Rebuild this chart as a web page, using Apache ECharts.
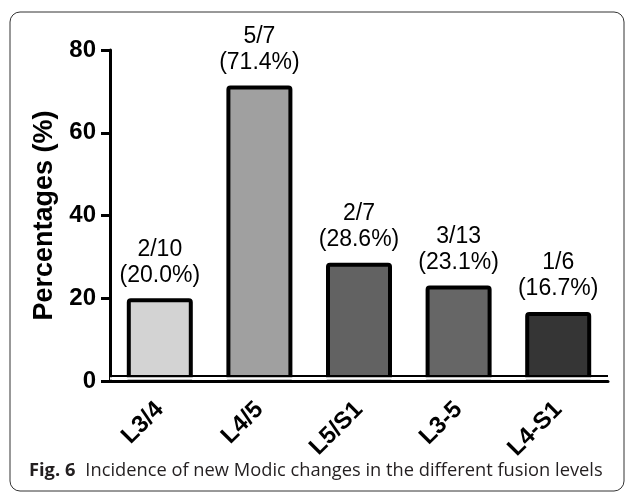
<!DOCTYPE html>
<html>
<head>
<meta charset="utf-8">
<script src="https://cdn.jsdelivr.net/npm/echarts@6/dist/echarts.min.js"></script>
<style>
html,body{margin:0;padding:0;background:#fff;}
#c{width:629px;height:494px;}
</style>
</head>
<body>
<div id="c"></div>
<script>
var categories = ['L3/4', 'L4/5', 'L5/S1', 'L3-5', 'L4-S1'];
var percentages = [20.0, 71.4, 28.6, 23.1, 16.7];
var counts = ['2/10', '5/7', '2/7', '3/13', '1/6'];
var barColors = ['#d3d3d3', '#a0a0a0', '#626262', '#666666', '#353535'];
var yTicks = [0, 20, 40, 60, 80];
var yAxisTitle = 'Percentages (%)';
var captionBold = 'Fig. 6';
var captionText = 'Incidence of new Modic changes in the different fusion levels';

var chart = echarts.init(document.getElementById('c'), null, {renderer: 'canvas'});

var seriesData = percentages.map(function (v, i) {
  return {
    value: v,
    itemStyle: {color: barColors[i]}
  };
});

var option = {
  animation: false,
  backgroundColor: '#fff',
  grid: {left: 110, right: 21, top: 50, bottom: 113, containLabel: false},
  title: {
    text: '{b|' + captionBold + '}  {n|' + captionText + '}',
    left: 24,
    top: 457,
    textStyle: {
      rich: {
        b: {fontFamily: 'Open Sans', fontWeight: 'bold', fontSize: 18.3, color: '#231f20'},
        n: {fontFamily: 'Open Sans', fontWeight: 'normal', fontSize: 18.3, color: '#231f20'}
      }
    }
  },
  graphic: [{
    type: 'rect',
    shape: {x: 10, y: 12, width: 614, height: 479, r: 10},
    style: {fill: 'none', stroke: '#333', lineWidth: 1},
    silent: true,
    z: -1
  }],
  xAxis: {
    type: 'category',
    data: categories,
    axisLine: {lineStyle: {color: '#000', width: 3}},
    axisTick: {alignWithLabel: true, length: 9, lineStyle: {color: '#000', width: 3}},
    axisLabel: {
      rotate: 45,
      margin: 25,
      fontFamily: 'Liberation Sans',
      fontWeight: 'bold',
      fontSize: 24,
      color: '#000'
    },
    splitLine: {show: false}
  },
  yAxis: {
    type: 'value',
    min: 0,
    max: 80,
    interval: 20,
    name: yAxisTitle,
    nameLocation: 'middle',
    nameGap: 43,
    nameTextStyle: {fontFamily: 'Liberation Sans', fontWeight: 'bold', fontSize: 27, color: '#000'},
    axisLine: {show: true, lineStyle: {color: '#000', width: 3}},
    axisTick: {show: true, length: 9, lineStyle: {color: '#000', width: 3}},
    axisLabel: {
      margin: 14,
      fontFamily: 'Liberation Sans',
      fontWeight: 'bold',
      fontSize: 24,
      color: '#000',
      formatter: function (v) { return yTicks.indexOf(v) >= 0 ? String(v) : ''; }
    },
    splitLine: {show: false}
  },
  series: [{
    type: 'bar',
    data: seriesData,
    barWidth: 66,
    itemStyle: {borderColor: '#000', borderWidth: 4, borderRadius: 2},
    label: {
      show: true,
      position: 'top',
      distance: 10,
      fontFamily: 'Liberation Sans',
      fontSize: 23,
      lineHeight: 26,
      color: '#000',
      align: 'center',
      formatter: function (p) {
        return counts[p.dataIndex] + '\n(' + percentages[p.dataIndex].toFixed(1) + '%)';
      }
    },
    markLine: {
      silent: true,
      symbol: 'none',
      label: {show: false},
      z: 5,
      data: [
        {yAxis: 0.55, lineStyle: {color: '#fff', width: 2.5, type: 'solid'}},
        {yAxis: 1.2, lineStyle: {color: '#000', width: 2, type: 'solid'}}
      ]
    }
  }]
};

chart.setOption(option);
</script>
</body>
</html>
